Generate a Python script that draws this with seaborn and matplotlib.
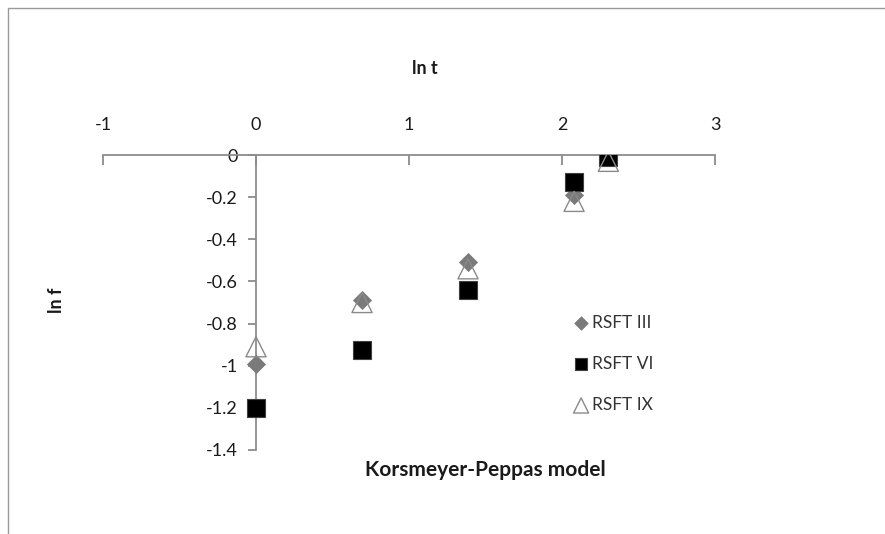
import matplotlib
matplotlib.use("Agg")
import matplotlib.pyplot as plt
import seaborn as sns
import pandas as pd
from matplotlib.patches import Rectangle

sns.set_theme(style="white")
plt.rcParams['font.family'] = ['Lato', 'DejaVu Sans']

ln_t = [0.0, 0.693, 1.386, 2.079, 2.303]
rsft_iii = [-0.99, -0.69, -0.51, -0.19, -0.01]
rsft_vi = [-1.20, -0.925, -0.64, -0.13, -0.01]
rsft_ix = [-0.91, -0.70, -0.54, -0.22, -0.03]
series_names = ["RSFT III", "RSFT VI", "RSFT IX"]
x_ticks = [-1, 0, 1, 2, 3]
y_ticks = [0, -0.2, -0.4, -0.6, -0.8, -1, -1.2, -1.4]
y_tick_labels = ["0", "-0.2", "-0.4", "-0.6", "-0.8", "-1", "-1.2", "-1.4"]

fig = plt.figure(figsize=(8.85, 5.34), dpi=100)
fig.patches.append(Rectangle((8/885, -0.1), 1.2, 1 - 8/534 + 0.1, transform=fig.transFigure,
                             fill=False, edgecolor="#9a9a9a", linewidth=1.0))
ax = fig.add_axes([103/885, 1 - 450/534, 612/885, 295/534])

d1 = pd.DataFrame({"x": ln_t, "y": rsft_iii})
d2 = pd.DataFrame({"x": ln_t, "y": rsft_vi})
d3 = pd.DataFrame({"x": ln_t, "y": rsft_ix})
sns.scatterplot(data=d1, x="x", y="y", ax=ax, marker="D", s=85, color="#7a7a7a",
                edgecolor="#7a7a7a", linewidth=0.5, label=series_names[0], zorder=3)
sns.scatterplot(data=d2, x="x", y="y", ax=ax, marker="s", s=150, color="black",
                edgecolor="#404040", linewidth=0.8, label=series_names[1], zorder=3)
sns.scatterplot(data=d3, x="x", y="y", ax=ax, marker="^", s=210, facecolor="none",
                edgecolor="#8a8a8a", linewidth=1.0, label=series_names[2], zorder=4)

ax.set_xlim(-1, 3)
ax.set_ylim(-1.4, 0)
ax.set_xlabel("")
ax.set_ylabel("")

axis_col = "#8c8c8c"
ax.spines['right'].set_visible(False)
ax.spines['bottom'].set_visible(False)
ax.spines['left'].set_position(('data', 0))
for sp in ['left', 'top']:
    ax.spines[sp].set_color(axis_col)
    ax.spines[sp].set_linewidth(1.3)

ax.xaxis.tick_top()
ax.set_xticks(x_ticks)
ax.set_xticklabels([str(v) for v in x_ticks])
ax.tick_params(axis='x', direction='in', length=7, width=1.3, color=axis_col,
               labelsize=13, pad=16, labelcolor="#1a1a1a")
ax.set_yticks(y_ticks)
ax.set_yticklabels(y_tick_labels)
ax.tick_params(axis='y', direction='out', length=6, width=1.3, color=axis_col,
               labelsize=13, pad=7, labelcolor="#1a1a1a", left=True)

fig.text(425/885, 1 - 68/534, "ln t", ha="center", va="center", fontsize=13,
         fontweight="bold", color="#1a1a1a")
fig.text(57/885, 1 - 300/534, "ln f", ha="center", va="center", fontsize=13,
         fontweight="bold", rotation=90, color="#1a1a1a")
fig.text(485/885, 1 - 470/534, "Korsmeyer-Peppas model", ha="center", va="center",
         fontsize=15, fontweight="bold", color="#1a1a1a")

leg = ax.legend(loc="upper left", bbox_to_anchor=(562/885, 1 - 306/534),
                bbox_transform=fig.transFigure, frameon=False, fontsize=12.5,
                labelspacing=1.45, handletextpad=0.0, handlelength=1.2, borderpad=0,
                markerscale=0.75)
for t in leg.get_texts():
    t.set_color("#333333")

fig.savefig("out.png", dpi=100)
